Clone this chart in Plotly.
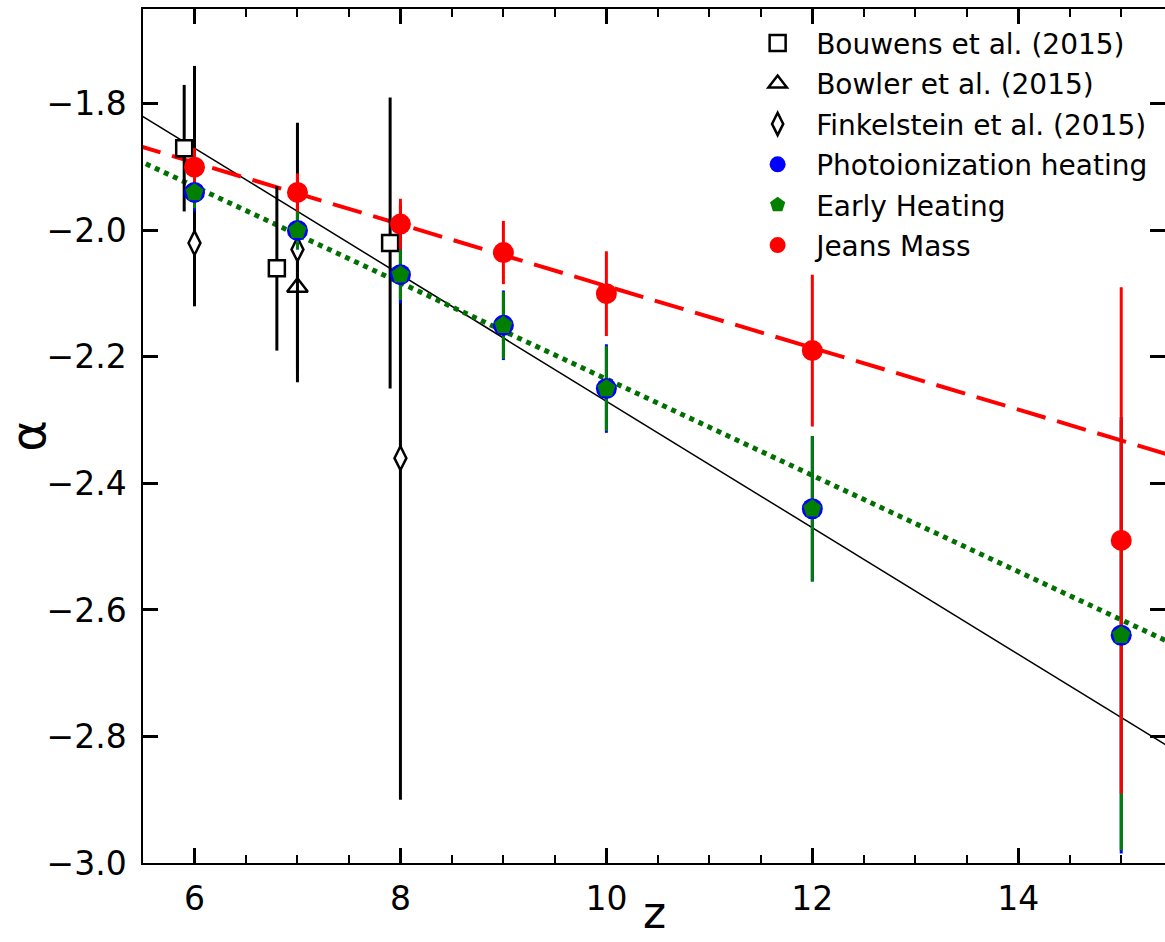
import numpy as np
import plotly.graph_objects as go

# Simulated faint-end slopes of the UV luminosity function
z_sim = [6, 7, 8, 9, 10, 12, 15]
alpha_photo = [-1.94, -2.00, -2.07, -2.15, -2.25, -2.44, -2.64]
err_photo = [0.03, 0.03, 0.045, 0.055, 0.07, 0.115, 0.345]
alpha_early = [-1.94, -2.00, -2.07, -2.15, -2.25, -2.44, -2.64]
err_early = [0.025, 0.03, 0.04, 0.053, 0.067, 0.115, 0.34]
alpha_jeans = [-1.90, -1.94, -1.99, -2.035, -2.10, -2.19, -2.49]
err_jeans = [0.03, 0.03, 0.04, 0.05, 0.067, 0.12, 0.40]

# Observational constraints
z_bouwens = [5.9, 6.8, 7.9]
alpha_bouwens = [-1.87, -2.06, -2.02]
err_bouwens = [0.10, 0.13, 0.23]

z_bowler = [7.0]
alpha_bowler = [-2.09]
err_bowler = [0.13]

z_finkel = [6.0, 7.0, 8.0]
alpha_finkel = [-2.02, -2.03, -2.36]
err_finkel_up = [0.28, 0.20, 0.40]
err_finkel_dn = [0.10, 0.21, 0.54]

# Linear fits alpha = slope * z + intercept
fit_obs = (-0.100, -1.270)
fit_early = (-0.0761, -1.474)
fit_jeans = (-0.0488, -1.600)
fit_z = np.array([5.0, 16.0])

FONT = "DejaVu Sans"
fig = go.Figure()

# fit lines
fig.add_trace(go.Scatter(x=fit_z, y=fit_obs[0] * fit_z + fit_obs[1], mode="lines",
                         line=dict(color="black", width=1.5), showlegend=False, hoverinfo="skip"))
fig.add_trace(go.Scatter(x=fit_z, y=fit_jeans[0] * fit_z + fit_jeans[1], mode="lines",
                         line=dict(color="#ff0000", width=4, dash="30px,12px"),
                         showlegend=False, hoverinfo="skip"))
fig.add_trace(go.Scatter(x=fit_z, y=fit_early[0] * fit_z + fit_early[1], mode="lines",
                         line=dict(color="#007000", width=5, dash="5px,5px"),
                         showlegend=False, hoverinfo="skip"))

# observational points with their error bars
obs_err = dict(color="black", thickness=3, width=0)
fig.add_trace(go.Scatter(
    x=z_bouwens, y=alpha_bouwens, mode="markers", name="Bouwens et al. (2015)",
    error_y=dict(type="data", array=err_bouwens, **obs_err),
    marker=dict(symbol="square", size=16, color="white", line=dict(color="black", width=2.5)),
    legendgroup="a"))
fig.add_trace(go.Scatter(
    x=z_bowler, y=alpha_bowler, mode="markers", name="Bowler et al. (2015)",
    error_y=dict(type="data", array=err_bowler, **obs_err),
    marker=dict(symbol="triangle-up", size=18, color="white", line=dict(color="black", width=2.5)),
    legendgroup="b"))
fig.add_trace(go.Scatter(
    x=z_finkel, y=alpha_finkel, mode="markers", name="Finkelstein et al. (2015)",
    error_y=dict(type="data", array=err_finkel_up, arrayminus=err_finkel_dn, **obs_err),
    marker=dict(symbol="diamond-tall", size=17, color="white", line=dict(color="black", width=2.5)),
    legendgroup="c"))

# simulation error bars drawn under all simulation markers
sims = [
    ("Photoionization heating", alpha_photo, err_photo, "#0000ff", "circle", 21, "d"),
    ("Early Heating", alpha_early, err_early, "#007f00", "pentagon", 19, "e"),
    ("Jeans Mass", alpha_jeans, err_jeans, "#ff0000", "circle", 21, "f"),
]
for name, vals, errs, col, sym, size, grp in sims:
    fig.add_trace(go.Scatter(
        x=z_sim, y=vals, mode="markers", showlegend=False, hoverinfo="skip",
        marker=dict(size=1, color="rgba(0,0,0,0)"),
        error_y=dict(type="data", array=errs, color=col, thickness=3, width=0)))
for name, vals, errs, col, sym, size, grp in sims:
    fig.add_trace(go.Scatter(
        x=z_sim, y=vals, mode="markers", name=name, legendgroup=grp,
        marker=dict(symbol=sym, size=size, color=col, line=dict(width=0))))

axis_common = dict(
    showline=True, linecolor="black", linewidth=1.5, mirror="allticks",
    ticks="inside", ticklen=15, tickwidth=3, tickcolor="black",
    showgrid=False, zeroline=False,
    tickfont=dict(family=FONT, size=33, color="black"),
)
fig.update_xaxes(range=[5.5, 15.425], tick0=6, dtick=2,
                 minor=dict(ticks="inside", dtick=0.5, ticklen=8, tickwidth=2, tickcolor="black"),
                 ticklabelstandoff=6, **axis_common)
fig.update_yaxes(range=[-3.0, -1.65], tick0=-3.0, dtick=0.2, tickformat=".1f",
                 title=dict(text="α", font=dict(family=FONT, size=48, color="black"), standoff=12),
                 ticklabelstandoff=8, **axis_common)

# x-axis title placed below the tick labels
fig.add_annotation(text="z", xref="paper", yref="paper", x=0.5, y=-0.0905,
                   xanchor="center", yanchor="bottom", showarrow=False,
                   font=dict(family=FONT, size=44, color="black"))

fig.update_layout(
    width=1165, height=942,
    margin=dict(l=143, r=0, t=9, b=79, autoexpand=False),
    plot_bgcolor="white", paper_bgcolor="white",
    font=dict(family=FONT, color="black"),
    legend=dict(x=0.5833, y=0.989, xanchor="left", yanchor="top",
                bgcolor="rgba(0,0,0,0)", borderwidth=0,
                font=dict(family=FONT, size=28, color="black"),
                itemwidth=67, tracegroupgap=1),
)

fig.write_html("out.html")
